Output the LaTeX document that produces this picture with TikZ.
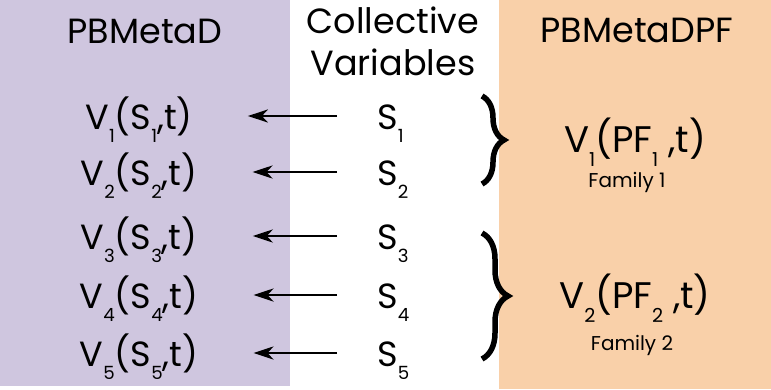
\documentclass[tikz,border=0pt]{standalone}
\usepackage{fontspec}
\usepackage{graphicx}
\setmainfont{Poppins}
\usetikzlibrary{arrows.meta,decorations.pathreplacing}
\definecolor{lpurple}{HTML}{CFC6DF}
\definecolor{lorange}{HTML}{F9D0A9}
\newcommand\lo[1]{\raisebox{-0.38em}{\scalebox{0.52}{#1}}}
\begin{document}
\begin{tikzpicture}[x=1pt,y=-1pt,
  title/.style={font=\fontsize{35}{35}\selectfont, anchor=base, inner sep=0pt},
  rowtxt/.style={font=\fontsize{35}{35}\selectfont, text height=26pt, text depth=0pt, inner sep=0pt},
  pftxt/.style={font=\fontsize{37}{37}\selectfont, anchor=base, inner sep=0pt},
  famtxt/.style={font=\fontsize{20}{20}\selectfont, anchor=base, inner sep=0pt},
  arr/.style={line width=2.8pt, -{Stealth[length=20pt,width=13pt,inset=6pt]}},
  brc/.style={decorate, decoration={brace, amplitude=#1}, line width=5.5pt}]
\useasboundingbox (0,0) rectangle (771,389);
\fill[lpurple] (0,0) rectangle (290,386);
\fill[lorange] (499,0) rectangle (771,389);
% titles
\node[title] (tl) at (145,43) {PBMetaD};
\node[title] (tc1) at (393,33) {Collective};
\node[title] (tc2) at (393,75) {Variables};
\node[title] (tr) at (637,42) {PBMetaDPF};
% left rows
\foreach \i/\y in {1/116,2/172,3/236,4/295,5/353}{
  \node[rowtxt] (v\i) at (139,\y) {V\lo{\i}(S\lo{\i},t)};
  \node[rowtxt, anchor=west] (s\i) at (377,\y) {S\lo{\i}};
  \draw[arr, shorten <=40pt, shorten >=55pt] (s\i.west) -- (v\i.east);
}
% right
\node[pftxt] (p1) at (635,152) {V\lo{1}(PF\lo{1} ,t)};
\node[famtxt] (f1) at (627,187) {Family 1};
\node[pftxt] (p2) at (635,308) {V\lo{2}(PF\lo{2} ,t)};
\node[famtxt] (f2) at (632,350) {Family 2};
% braces
\coordinate (b1t) at (482,96);
\coordinate (b1b) at (482,184);
\coordinate (b2t) at (482,233);
\coordinate (b2b) at (482,359);
\draw[brc=22pt] (b1t) -- (b1b);
\draw[brc=26pt] (b2t) -- (b2b);
\end{tikzpicture}
\end{document}
